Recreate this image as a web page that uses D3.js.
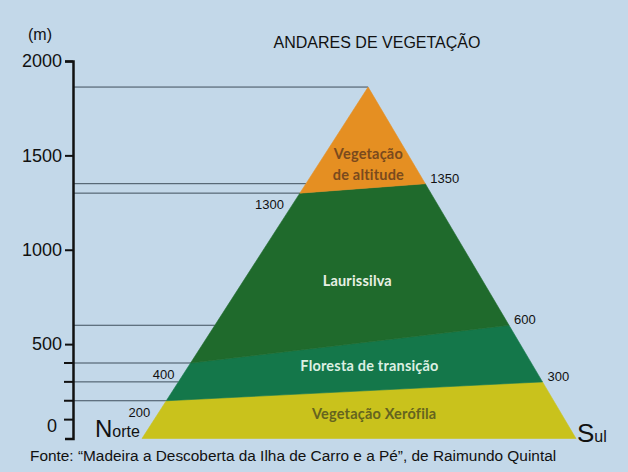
<!DOCTYPE html>
<html><head><meta charset="utf-8">
<script src="https://cdn.jsdelivr.net/npm/d3@7"></script>
<style>
html,body{margin:0;padding:0;background:#c3d8e9;}
svg{display:block;}
</style></head>
<body>
<svg id="chart" width="628" height="472"></svg>
<script>
// ---- data ----
const title = "ANDARES DE VEGETAÇÃO";
const source = "Fonte: “Madeira a Descoberta da Ilha de Carro e a Pé”, de Raimundo Quintal";
const unitLabel = "(m)";
const majorTicks = [0, 500, 1000, 1500, 2000];
const minorTicks = [100, 200, 300, 400];
const peakAltitude = 1862;         // summit (m)
const peakPosition = 52.1;         // summit position along the N–S section (%)
const zoneNames = ["Vegetação Xerófila", "Floresta de transição", "Laurissilva", "Vegetação de altitude"];
const northLimits = [0, 200, 400, 1300, peakAltitude]; // zone limits on north slope (m)
const southLimits = [0, 300, 600, 1350, peakAltitude]; // zone limits on south slope (m)
const northLabels = [200, 400, 1300];
const southLabels = [300, 600, 1350];
const refLevels = [peakAltitude, 1350, 1300, 600, 400, 300, 200];
const zoneColors = ["#c9c21c", "#14774a", "#1f6a2c", "#e58f22"];
const zoneTextColors = ["#65641f", "#dcefe2", "#e8f0e4", "#7a4a1d"];

// ---- scales ----
const svg = d3.select("#chart");
const y = d3.scaleLinear().domain([0, 2000]).range([438.5, 61]);
const x = d3.scaleLinear().domain([0, 100]).range([142, 576]);
const axisX = 73;

const northPos = a => peakPosition * a / peakAltitude;
const southPos = a => 100 - (100 - peakPosition) * a / peakAltitude;

// title
svg.append("text").attr("x", 377).attr("y", 48).attr("text-anchor", "middle")
  .attr("font-family", "Liberation Sans, Arial, sans-serif").attr("font-size", 16)
  .attr("fill", "#111").text(title);

// unit
svg.append("text").attr("x", 40).attr("y", 40).attr("text-anchor", "middle")
  .attr("font-family", "Liberation Sans, Arial, sans-serif").attr("font-size", 16)
  .attr("fill", "#111").text(unitLabel);

// reference lines
svg.append("g").selectAll("line").data(refLevels).join("line")
  .attr("x1", axisX + 1).attr("x2", d => x(northPos(d)))
  .attr("y1", d => y(d)).attr("y2", d => y(d))
  .attr("stroke", "#3f4f5c").attr("stroke-width", 1);

// zones
const zones = zoneNames.map((name, i) => {
  const pts = [
    [x(northPos(northLimits[i])), y(northLimits[i])],
    [x(southPos(southLimits[i])), y(southLimits[i])],
    [x(southPos(southLimits[i + 1])), y(southLimits[i + 1])],
    [x(northPos(northLimits[i + 1])), y(northLimits[i + 1])]
  ];
  return {name, pts, color: zoneColors[i], text: zoneTextColors[i]};
});
svg.append("g").selectAll("path").data(zones).join("path")
  .attr("d", d => "M" + d.pts.map(p => p.join(",")).join("L") + "Z")
  .attr("fill", d => d.color).attr("stroke", d => d.color).attr("stroke-width", 0.6);

// zone labels
const lab = svg.append("g").attr("font-family", "Lato, 'Noto Sans', sans-serif")
  .attr("font-weight", "bold").attr("font-size", 14.5).attr("text-anchor", "middle")
  .attr("letter-spacing", 0.2);
zones.forEach((z, i) => {
  const c = d3.polygonCentroid(z.pts);
  const t = lab.append("text").attr("x", c[0] + 3).attr("fill", z.text);
  if (i === 3) {
    t.attr("y", c[1] + 4);
    t.append("tspan").attr("x", c[0] + 4).attr("dy", 0).text("Vegetação");
    t.append("tspan").attr("x", c[0] + 4).attr("dy", 21).text("de altitude");
  } else {
    t.attr("y", c[1] + (i === 2 ? 8 : 4)).text(z.name);
  }
});

// side labels
const side = svg.append("g").attr("font-family", "Liberation Sans, Arial, sans-serif")
  .attr("font-size", 13).attr("fill", "#111");
side.selectAll("text.n").data(northLabels).join("text").attr("class", "n")
  .attr("x", d => x(northPos(d)) - 16).attr("y", d => y(d) + 16)
  .attr("text-anchor", "end").text(d => d);
side.selectAll("text.s").data(southLabels).join("text").attr("class", "s")
  .attr("x", d => x(southPos(d)) + 5).attr("y", d => y(d) - 1)
  .attr("text-anchor", "start").text(d => d);

// axis
const axisG = svg.append("g").attr("transform", `translate(${axisX},0)`)
  .call(d3.axisLeft(y).tickValues(majorTicks).tickFormat(d3.format("d"))
    .tickSize(8).tickSizeOuter(8).tickPadding(3));
axisG.select(".domain").attr("stroke", "#111").attr("stroke-width", 2.5);
axisG.selectAll(".tick line").attr("stroke", "#111").attr("stroke-width", 2);
axisG.selectAll(".tick text").attr("font-family", "Liberation Sans, Arial, sans-serif")
  .attr("font-size", 18).attr("fill", "#111");
axisG.selectAll(".tick").filter(d => d === 0).select("text").attr("dy", "-0.4em").attr("x", -16);
axisG.append("g").selectAll("line").data(minorTicks).join("line")
  .attr("x1", -9).attr("x2", 0).attr("y1", d => y(d)).attr("y2", d => y(d))
  .attr("stroke", "#111").attr("stroke-width", 2);

// Norte / Sul
const ns = svg.append("g").attr("font-family", "Liberation Sans, Arial, sans-serif").attr("fill", "#111");
const nt = ns.append("text").attr("x", 95).attr("y", 437);
nt.append("tspan").attr("font-size", 24).text("N");
nt.append("tspan").attr("font-size", 16).text("orte");
const st = ns.append("text").attr("x", 577).attr("y", 442);
st.append("tspan").attr("font-size", 26).text("S");
st.append("tspan").attr("font-size", 16).text("ul");

// source
svg.append("text").attr("x", 30).attr("y", 461)
  .attr("font-family", "Liberation Sans, Arial, sans-serif").attr("font-size", 15.4)
  .attr("fill", "#111").text(source);
</script>
</body></html>
